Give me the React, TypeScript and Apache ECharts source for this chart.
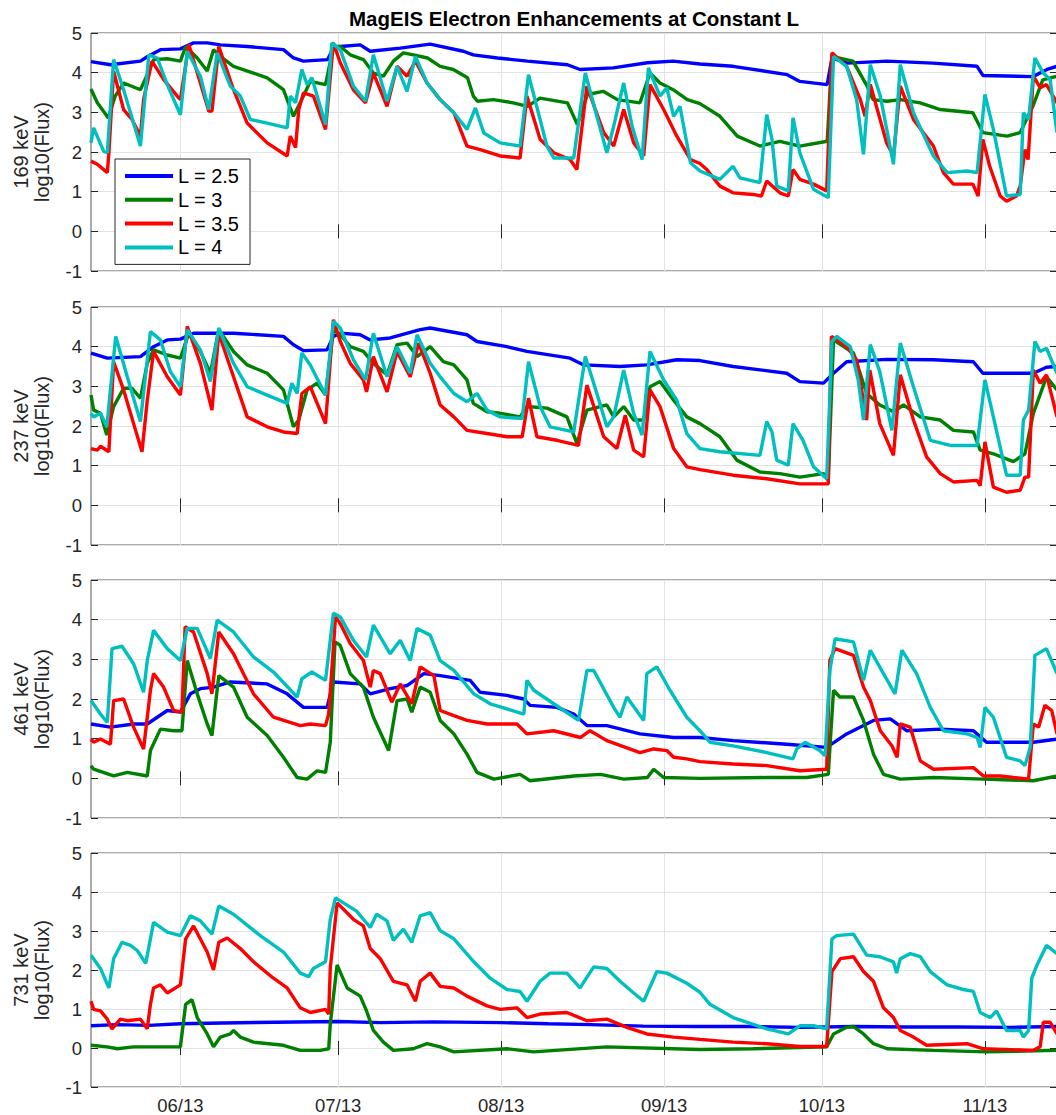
import React, { useEffect, useRef } from "react";
import * as echarts from "echarts";

// ---------------- data (x = day of year 2013, y = log10(Flux)) ----------------
const energyLabels = ["169 keV", "237 keV", "461 keV", "731 keV"];
const shellNames = ["L = 2.5", "L = 3", "L = 3.5", "L = 4"];
const shellColors = ["#0000ff", "#008000", "#ff0000", "#00bfbf"];
const monthTicks = [152, 182, 213, 244, 274, 305];
const monthLabels = ["06/13", "07/13", "08/13", "09/13", "10/13", "11/13"];
const xMin = 135;
const xMax = 318.7;
const yMin = -1;
const yMax = 5;

const e169_L25 = [[135,4.28],[138.7,4.2],[144.4,4.29],[145.7,4.4],[148.2,4.58],[152,4.6],[154.5,4.75],[157.1,4.75],[159.6,4.7],[164.7,4.66],[171.6,4.58],[173.5,4.37],[175.4,4.29],[180,4.33],[181.1,4.62],[182.4,4.66],[186.2,4.7],[188.1,4.54],[193.8,4.62],[199.5,4.72],[205.8,4.54],[207.7,4.45],[212.3,4.37],[218,4.29],[225.6,4.2],[228,4.08],[234.3,4.12],[240.8,4.25],[245.7,4.29],[250.8,4.22],[257.1,4.16],[267.4,3.95],[269.8,3.78],[275,3.7],[275.9,4.37],[278.8,4.24],[286.4,4.29],[295.1,4.24],[303.5,4.16],[304.6,3.93],[314.1,3.9],[316.8,4.08],[318.7,4.16]];
const e169_L3 = [[135,3.59],[136.2,3.24],[138.3,2.86],[139.6,3.41],[141.2,3.74],[144.4,3.57],[145.7,3.95],[146.9,4.33],[149.5,4.35],[152,4.29],[153,4.66],[155.2,4.37],[157.1,4.04],[158.3,4.58],[159.6,4.41],[162.1,4.16],[165.9,3.99],[168.5,3.87],[171.6,3.57],[173.5,2.9],[175.4,3.41],[176.7,3.78],[179.6,3.7],[181.1,4.66],[182.4,4.66],[184.3,4.45],[186.8,4.33],[188.7,3.99],[190.6,3.91],[192.5,4.29],[194.4,4.5],[196.3,4.45],[199,4.37],[201.4,4.16],[203.9,4.08],[206.6,3.87],[207.7,3.41],[208.5,3.28],[211.5,3.32],[215.3,3.24],[218,3.15],[220.4,3.36],[225.6,3.24],[227.5,2.69],[229.4,3.45],[232.4,3.53],[235.1,3.32],[239.4,3.24],[241.3,3.99],[243.2,3.74],[245.7,3.57],[248.4,3.32],[250.8,3.22],[254.6,2.9],[257.9,2.4],[262.2,2.15],[266,2.27],[269.8,2.15],[275,2.27],[275.9,4.41],[279.9,4.29],[282.6,3.66],[283.7,3.32],[286.4,3.28],[288.9,3.32],[292.7,3.24],[296.5,3.07],[302.7,2.99],[304.6,2.49],[309.2,2.4],[311.7,2.49],[314.1,3.15],[316,3.82],[318.7,3.91]];
const e169_L35 = [[135,1.77],[136.2,1.69],[138.1,1.48],[138.4,1.98],[139.3,4.04],[141.2,3.07],[142.8,2.82],[144.4,2.4],[145,3.32],[146.6,4.29],[148.8,3.83],[151.4,3.41],[152,3.32],[153.6,4.71],[155.8,3.74],[157.4,3.03],[158,3.03],[159.3,4.66],[162.1,3.57],[164.7,2.73],[168.5,2.23],[172.3,1.9],[172.9,2.4],[173.9,2.11],[174.5,3.07],[175.4,3.49],[177.3,3.41],[179.6,2.57],[181.1,4.75],[182.4,4.25],[184.9,3.57],[187.2,3.24],[188.7,3.99],[191.3,3.15],[193.2,4.16],[195.1,3.91],[196.7,4.29],[198.9,3.74],[201.4,3.32],[204,2.99],[206.5,2.15],[209,2.06],[212.8,1.9],[216.6,1.85],[217.9,3.41],[220.4,2.32],[223,1.98],[226.1,1.81],[227.4,1.56],[229.3,3.66],[232.5,2.49],[234.4,2.15],[236.3,3.07],[238.2,2.23],[240.1,1.9],[241.3,3.7],[243.9,3.07],[246.4,2.4],[249,1.81],[250.8,1.71],[252.1,1.56],[254.6,1.14],[257.1,0.97],[260.9,0.93],[262.5,0.89],[263.5,1.27],[266,0.97],[267.6,0.89],[268.5,1.56],[269.8,1.31],[272.4,1.19],[274.9,1.02],[275.9,4.5],[278.7,4.16],[281.3,3.32],[282.2,2.9],[283.2,3.7],[286.3,2.23],[287.6,1.9],[288.9,3.66],[291.4,2.82],[295.2,2.15],[297.1,1.48],[299,1.19],[302.7,1.19],[303.7,0.89],[304.6,2.32],[305.9,1.64],[307.9,0.89],[309.1,0.76],[311,0.89],[311.7,1.14],[312.6,2.06],[313.2,1.81],[314.2,3.91],[315.5,3.62],[316.7,3.7],[318.7,3.24]];
const e169_L4 = [[135,2.23],[135.5,2.61],[137.4,2.02],[138.1,1.98],[139.3,4.33],[141.2,3.57],[144.4,2.15],[146,4.45],[147.6,4.37],[149.5,3.7],[152,2.94],[153.3,4.54],[155.8,3.91],[157.4,3.07],[159,4.5],[161.5,3.66],[163.4,3.41],[165.3,2.82],[168.5,2.73],[172.3,2.61],[172.9,3.41],[173.9,3.24],[175.1,4.08],[176.1,3.7],[177,3.87],[179.6,2.69],[180.8,4.75],[182.4,4.58],[184.9,3.66],[187.2,3.28],[188.7,4.45],[191.3,3.28],[193.2,4.16],[195.1,3.53],[196.7,4.41],[198.9,3.74],[201.4,3.32],[204,2.99],[206.5,2.57],[208.1,3.11],[209.7,2.48],[212.8,2.23],[216.6,2.15],[218.2,3.95],[220.4,2.82],[221.7,2.15],[223,1.85],[226.8,1.85],[229,3.99],[231.2,2.9],[233.1,1.98],[234.4,2.65],[236.3,3.74],[237.9,2.65],[239.8,1.81],[241,4.12],[243.2,3.41],[244.5,3.62],[245.8,2.9],[247,3.15],[249,1.73],[250.8,1.52],[254.6,1.31],[257.1,1.64],[258.4,1.35],[262.2,1.23],[263.5,2.94],[264.5,2.32],[265.4,1.14],[267.6,1.02],[268.5,2.86],[269.8,1.98],[272.4,1.06],[275.2,0.85],[276.2,4.41],[278.7,4.16],[280.6,3.32],[281.9,1.94],[283.2,4.2],[285.1,3.41],[287.6,1.69],[288.9,4.2],[291.4,2.99],[295.2,1.9],[297.8,1.48],[301.6,1.52],[303.5,1.48],[305,3.45],[306.6,2.57],[309.1,0.89],[311.7,0.93],[312.3,2.99],[313.3,2.82],[314.5,4.37],[316.1,3.99],[317.4,3.82],[318.7,2.49]];

const e237_L25 = [[135,3.84],[138.1,3.71],[144.4,3.75],[146.9,4.0],[149.5,4.17],[152,4.19],[154.5,4.34],[162.1,4.34],[171.6,4.26],[173.5,4.05],[175.4,3.9],[179.9,3.92],[181.1,4.26],[182.4,4.34],[186.2,4.3],[188.1,4.17],[191.9,4.22],[197.6,4.43],[199.5,4.47],[206.5,4.3],[208.4,4.13],[214.1,4.0],[217.9,3.88],[226.1,3.71],[228.7,3.54],[235.6,3.5],[240.7,3.54],[246.4,3.67],[250.8,3.65],[257.1,3.5],[267.3,3.33],[269.8,3.12],[274.3,3.08],[276.2,3.33],[278.7,3.62],[286.3,3.68],[295.2,3.67],[302.8,3.62],[304.6,3.33],[314.2,3.33],[316.7,3.48],[318.7,3.5]];
const e237_L3 = [[135,2.78],[135.5,2.4],[136.8,2.32],[138,1.77],[139.3,2.49],[141.2,2.95],[142.8,2.95],[144.4,2.7],[145.7,3.58],[146.9,3.92],[149.5,3.79],[152,3.71],[153.6,4.34],[155.8,3.88],[157.7,3.33],[159.3,4.43],[162.1,3.88],[164.7,3.54],[168.5,3.33],[171.6,2.91],[173.5,1.98],[174.5,2.15],[176.1,2.91],[178,3.08],[179.6,2.78],[181.1,4.43],[182.4,4.3],[184.3,4.0],[186.8,3.88],[188.7,3.58],[191.3,3.29],[193.2,4.05],[195.1,4.09],[197,3.75],[199.5,4.0],[202,3.62],[204,3.54],[206.5,3.16],[207.7,2.57],[210.3,2.36],[212.8,2.32],[216.6,2.23],[217.9,2.49],[221.7,2.45],[225.5,2.23],[227.4,1.56],[229.3,2.4],[233.1,2.53],[234.4,2.23],[236.3,2.49],[238.2,2.15],[240.1,2.15],[241.3,2.99],[243.2,3.12],[245.8,2.65],[248.3,2.23],[250.8,2.06],[254.6,1.73],[257.8,1.14],[262.2,0.84],[266,0.8],[269.8,0.71],[274.3,0.8],[275.2,0.63],[276.2,4.17],[280,3.84],[282.5,2.82],[285,2.53],[287.6,2.36],[289.5,2.53],[292.7,2.23],[296.5,2.15],[299,1.89],[302.8,1.85],[304.1,1.39],[306.6,1.3],[310.4,1.1],[312.6,1.3],[314.2,2.32],[316.7,3.24],[318.7,2.91]];
const e237_L35 = [[135,1.43],[136.2,1.39],[136.8,1.49],[138.4,1.35],[139.3,3.62],[141.2,2.91],[143.1,2.06],[144.7,1.35],[145.7,2.65],[146.9,3.88],[149.5,3.24],[152,2.78],[153.3,4.51],[155.8,3.58],[158,2.4],[159.3,4.34],[162.1,3.24],[164.7,2.23],[168.5,1.98],[171.6,1.85],[174.2,1.81],[175.1,2.82],[176.7,2.99],[179.6,2.06],[181.1,4.68],[182.4,4.13],[184.3,3.58],[186.8,3.16],[187.4,2.86],[188.7,3.75],[191.3,2.86],[193.2,3.88],[195.7,3.24],[197.3,4.09],[199.5,3.33],[201.4,2.53],[204,2.23],[206.5,1.89],[210.3,1.81],[214.1,1.73],[217,1.73],[218.2,2.7],[219.8,1.73],[223.6,1.64],[227.7,1.51],[229.3,3.03],[232.5,1.73],[235,1.43],[236.6,2.27],[238.2,1.39],[240.1,1.22],[241.3,2.91],[243.2,2.49],[245.8,1.43],[248.3,0.97],[250.8,0.9],[257.1,0.76],[263.5,0.67],[269.8,0.54],[275.2,0.54],[275.8,4.26],[278.7,4.0],[280.6,3.67],[282.5,2.15],[283.1,3.41],[285,2.06],[287.6,1.26],[288.9,3.29],[291.4,2.15],[293.9,1.22],[296.5,0.8],[299,0.59],[303.5,0.63],[304.1,0.5],[305,1.6],[306.6,0.46],[309.1,0.33],[311.7,0.38],[312.6,0.71],[313.3,0.71],[314.2,3.41],[315.5,3.08],[316.7,3.29],[318.7,2.23]];
const e237_L4 = [[135,2.32],[135.5,2.23],[136.8,2.32],[138,1.98],[139.7,4.26],[141.9,3.24],[144.4,2.11],[146.3,4.38],[148.2,4.17],[150.1,3.37],[152,2.99],[153.3,4.43],[155.8,3.92],[157.7,3.12],[159.3,4.47],[162.1,3.58],[164.7,2.99],[168.5,2.78],[172.3,2.57],[173.2,3.08],[174.2,2.82],[175.1,3.84],[176.7,3.54],[179.6,2.78],[181.1,4.64],[182.4,4.47],[184.9,3.67],[187.2,3.16],[188.7,4.34],[191.3,3.24],[193.2,4.0],[195.7,3.33],[197,4.3],[199.5,3.58],[201.4,3.24],[204,2.82],[206.5,2.61],[208.4,2.82],[210.3,2.4],[212.8,2.23],[217,2.19],[218.2,3.62],[220.4,2.49],[222.3,1.98],[226.8,1.85],[229,3.75],[231.2,2.82],[233.1,1.98],[234.4,2.23],[236.3,3.41],[238.2,2.32],[239.8,1.77],[241.3,3.88],[243.9,3.16],[246.4,2.65],[248.3,1.81],[250.8,1.43],[254.6,1.35],[262.2,1.26],[263.5,2.11],[264.5,1.85],[265.4,1.14],[267.6,1.01],[268.5,2.06],[270.4,1.64],[272.4,0.97],[274.9,0.67],[275.9,4.13],[276.8,4.26],[279.4,4.0],[280.9,3.16],[281.9,2.15],[283.2,4.05],[285,3.37],[287.3,1.89],[288.9,4.09],[291.4,2.99],[294.6,1.64],[298.4,1.51],[303.5,1.51],[305,3.16],[306.6,2.23],[309.1,0.76],[311.7,0.76],[312.3,2.15],[313.3,2.4],[314.5,4.13],[315.5,3.88],[316.7,3.96],[318.7,3.33]];

const e461_L25 = [[135,1.37],[138.7,1.29],[143.1,1.37],[145.7,1.37],[149.5,1.71],[152,1.67],[153.9,2.13],[155.8,2.26],[158.3,2.3],[161.5,2.43],[168.5,2.38],[172.3,2.13],[175.4,1.79],[179.9,1.79],[181.1,2.43],[186.2,2.38],[188.1,2.13],[191.9,2.26],[195.1,2.34],[198.3,2.64],[201.4,2.59],[207.1,2.47],[209,2.17],[214.1,2.09],[217.3,2.0],[218.5,1.84],[223.6,1.79],[226.8,1.62],[229.3,1.33],[233.1,1.33],[239.4,1.12],[245.8,1.03],[250.8,1.03],[257.1,0.95],[267.3,0.86],[274.9,0.78],[278.7,1.12],[283.8,1.46],[287,1.5],[290.1,1.2],[296.5,1.24],[302.8,1.2],[305.3,0.91],[314.2,0.91],[318.7,0.99]];
const e461_L3 = [[135,0.32],[135.5,0.23],[139.3,0.06],[141.9,0.15],[145.7,0.06],[146.3,0.7],[148.2,1.24],[150.7,1.2],[152.3,1.2],[153.3,2.97],[155.2,2.13],[157.1,1.37],[158,1.08],[159.3,2.59],[162.1,2.3],[164.7,1.54],[168.5,1.08],[171.6,0.53],[174.2,0.02],[176.1,-0.02],[178,0.19],[179.6,0.15],[180.5,0.91],[181.4,3.44],[182.4,3.35],[184.3,2.64],[186.8,2.3],[188.7,1.54],[191.6,0.7],[193.2,1.96],[195.1,2.0],[196,1.67],[197.6,2.3],[199.5,2.17],[201.4,1.46],[204,1.12],[206.5,0.61],[208.4,0.15],[211.6,-0.02],[216.6,0.1],[218.5,-0.06],[226.8,0.06],[231.9,0.1],[236.3,-0.02],[240.8,0.02],[242,0.23],[243.9,0.02],[250.8,0.0],[263.5,0.02],[271.1,0.02],[275.2,0.1],[276.2,2.22],[277.4,2.05],[280,2.05],[281.9,1.46],[283.8,0.61],[285.7,0.1],[288.9,-0.02],[295.2,0.02],[304.7,-0.02],[314.2,-0.06],[318.7,0.06]];
const e461_L35 = [[135,0.99],[135.5,0.91],[136.8,0.99],[138.7,0.86],[139.3,1.96],[141.2,2.0],[143.1,1.29],[145,0.74],[146.3,2.22],[146.9,2.64],[148.8,2.3],[150.7,1.71],[152.3,1.67],[152.9,3.82],[154.5,3.69],[157.1,2.64],[158,2.13],[159.3,3.69],[162.1,3.14],[165.9,2.13],[169.7,1.54],[174.8,1.33],[176.7,1.37],[179.6,1.33],[180.2,1.62],[181.5,4.07],[182.4,3.9],[184.3,3.4],[186.8,2.97],[188.1,2.3],[188.7,2.72],[190,2.64],[192.2,1.92],[193.8,2.38],[196,1.88],[197.6,2.81],[200.2,2.59],[201.4,1.71],[204,1.58],[206.5,1.46],[210.3,1.37],[216,1.37],[217.9,1.12],[223,1.2],[228.1,1.03],[229.9,1.2],[233.1,0.95],[239.4,0.65],[242,0.74],[244.5,0.7],[245.8,0.53],[248.3,0.49],[250.8,0.42],[257.1,0.36],[263.5,0.32],[269.8,0.19],[274.9,0.23],[275.5,2.97],[276.5,3.27],[280,3.1],[281.9,2.3],[283.2,1.96],[285.1,1.2],[287.3,0.82],[288.3,0.53],[288.9,1.37],[290.8,1.29],[292.7,0.44],[295.2,0.23],[302.8,0.27],[304.7,0.06],[307.9,0.06],[310.4,0.02],[313.3,-0.02],[314.2,1.37],[315.2,1.29],[316.4,1.84],[317.7,1.71],[318.7,1.12]];
const e461_L4 = [[135,1.96],[136.8,1.62],[138.1,1.41],[139,3.27],[140.9,3.33],[143.1,2.89],[145,2.17],[145.7,2.97],[146.9,3.73],[149.5,3.27],[152,2.97],[153.3,3.78],[155.2,3.78],[157.7,3.02],[159,3.99],[162.1,3.69],[165.9,3.06],[169.7,2.68],[174.2,2.05],[175.1,2.51],[177,2.68],[179.6,2.47],[181.1,4.16],[182.4,4.07],[184.9,3.48],[187.4,3.06],[188.7,3.86],[191.9,3.14],[193.8,3.48],[195.7,2.97],[197,3.78],[199.5,3.61],[201.4,2.97],[204,2.72],[207.8,2.13],[210.9,1.88],[214.1,1.75],[217.3,1.62],[217.9,2.47],[219.2,2.22],[223,1.88],[227.7,1.46],[229.3,2.72],[230.6,2.72],[234.4,1.79],[235.6,1.54],[236.9,2.05],[240.1,1.46],[240.7,2.64],[242.6,2.81],[245.1,2.22],[248.3,1.54],[250.8,1.2],[252.7,0.91],[257.1,0.82],[263.5,0.65],[268.5,0.49],[269.2,0.74],[270.8,0.91],[273.6,0.7],[274.6,0.57],[275.5,2.72],[276.5,3.52],[280,3.44],[281.9,2.47],[283.2,3.23],[285.7,2.64],[287.9,2.13],[289.2,3.23],[292,2.64],[294.6,1.79],[297.1,1.2],[301.6,1.12],[303.5,1.03],[304.1,0.78],[305,1.79],[306.6,1.54],[309.1,0.53],[311.7,0.44],[312.6,0.32],[313.6,0.78],[314.5,3.1],[316.7,3.27],[318.7,2.64]];

const e731_L25 = [[135,0.57],[140,0.6],[146,0.58],[152,0.62],[160,0.64],[170,0.66],[182,0.68],[190,0.65],[200,0.67],[213,0.65],[222,0.62],[230,0.6],[240,0.56],[250,0.55],[260,0.55],[270,0.53],[280,0.55],[290,0.54],[300,0.54],[310,0.53],[318.7,0.55]];
const e731_L3 = [[135,0.07],[138.1,0.03],[140,-0.02],[143.1,0.03],[152,0.03],[153,1.12],[154.2,1.24],[155.2,0.78],[157.1,0.36],[158.3,0.03],[159.6,0.28],[161.5,0.36],[162.1,0.45],[163.4,0.28],[165.9,0.15],[171.6,0.07],[174.8,-0.06],[178.6,-0.06],[180.2,-0.02],[180.5,0.61],[181.8,2.13],[183.7,1.54],[186.2,1.33],[187.4,0.95],[188.7,0.45],[190.6,0.15],[192.5,-0.06],[196.3,-0.02],[198.9,0.11],[201.4,0.03],[204,-0.1],[214.1,-0.02],[219.2,-0.1],[233.1,0.03],[250.8,-0.04],[260.9,-0.02],[274.9,0.03],[276.2,0.36],[278.7,0.53],[280,0.55],[281.9,0.36],[283.8,0.11],[286.4,-0.02],[295.2,-0.06],[305.3,-0.1],[318.7,-0.06]];
const e731_L35 = [[135,1.2],[135.5,0.99],[136.8,0.95],[138.1,0.74],[139,0.49],[140.6,0.74],[141.9,0.7],[144.4,0.74],[145.7,0.49],[146.3,1.12],[146.9,1.54],[148.2,1.62],[149.5,1.41],[152,1.62],[153,2.8],[154.5,3.13],[157.1,2.46],[158.3,2.0],[159.3,2.71],[160.9,2.82],[163.4,2.55],[165.9,2.21],[169.7,1.79],[172.3,1.54],[174.8,1.03],[176.7,0.91],[179.6,0.99],[180.2,0.87],[180.5,2.04],[181.8,3.72],[184.9,3.3],[186.8,3.13],[188.1,2.55],[190,2.29],[192.5,1.71],[195.1,1.62],[196.7,1.2],[197.6,1.71],[199.5,1.92],[201.4,1.58],[204,1.54],[206.5,1.33],[210.3,1.08],[212.8,0.99],[216,1.03],[217.9,0.78],[220.4,0.87],[225.5,0.91],[229.3,0.7],[233.1,0.74],[236.9,0.53],[240.7,0.36],[245.8,0.28],[250.8,0.22],[257.1,0.15],[263.5,0.11],[269.8,0.04],[274.9,0.04],[275.9,1.96],[277.5,2.29],[280,2.34],[281.9,1.96],[283.8,1.71],[285.7,1.03],[287.6,0.78],[288.9,0.45],[291.4,0.28],[293.9,0.07],[301.6,0.11],[304.7,-0.02],[314.2,-0.06],[315.5,0.03],[316.1,0.66],[317.4,0.66],[318.7,0.36]];
const e731_L4 = [[135,2.38],[136.8,2.04],[138.4,1.54],[139.3,2.29],[140.9,2.71],[142.5,2.63],[143.8,2.5],[145.4,2.17],[146.9,3.22],[149.5,2.97],[152,2.88],[153.9,3.39],[155.8,3.26],[158,2.92],[159.3,3.64],[162.1,3.43],[167.2,2.88],[171.6,2.46],[174.8,1.92],[176.4,1.83],[177.3,2.04],[179.6,2.21],[180.5,3.3],[181.5,3.85],[185.5,3.51],[188.1,3.09],[189.3,3.43],[191.3,3.26],[192.5,2.76],[194.4,3.05],[196,2.71],[197.6,3.39],[199.5,3.47],[201.4,3.01],[204,2.8],[207.8,2.21],[210.9,1.79],[214.1,1.5],[216.6,1.45],[217.9,1.2],[220.4,1.71],[222.3,1.92],[225.5,1.92],[228,1.54],[230.6,2.08],[233.1,2.04],[235.6,1.71],[238.2,1.41],[240.1,1.2],[242.6,1.96],[244.5,1.92],[248.3,1.66],[250.8,1.43],[252.7,1.12],[257.1,0.78],[263.5,0.49],[267.6,0.36],[269.8,0.57],[272.4,0.57],[274.9,0.49],[275.9,2.8],[276.8,2.88],[280,2.92],[282.5,2.38],[285,2.34],[287.6,2.21],[288.2,1.92],[288.9,2.29],[290.8,2.42],[292.7,2.34],[294.6,1.96],[297.8,1.62],[300.9,1.5],[302.8,1.45],[304.1,0.91],[306,0.78],[307.2,0.95],[309.1,0.45],[311.7,0.45],[312.3,0.28],[313.3,0.45],[313.9,1.79],[314.9,2.13],[316.7,2.63],[318.7,2.42]];

const panels = [
  [e169_L25, e169_L3, e169_L35, e169_L4],
  [e237_L25, e237_L3, e237_L35, e237_L4],
  [e461_L25, e461_L3, e461_L35, e461_L4],
  [e731_L25, e731_L3, e731_L35, e731_L4],
];

// ---------------- layout / style ----------------
const FONT = '"Liberation Sans", Arial, Helvetica, sans-serif';
const PANEL_TOPS = [33, 307, 580, 853];
const PANEL_H = 238;
const PLOT_LEFT = 91;
const CHART_W = 1058;
const PLOT_RIGHT = 1;
const TEXT_COLOR = "#262626";
const GRID_COLOR = "#e3e3e3";

function buildOption() {
  const grid = PANEL_TOPS.map((top) => ({
    left: PLOT_LEFT,
    right: PLOT_RIGHT,
    top,
    height: PANEL_H,
    show: true,
    borderColor: "#555555",
    borderWidth: 1,
    backgroundColor: "#ffffff",
  }));
  const fmtMonth = (v: number) => {
    const i = monthTicks.indexOf(Math.round(v));
    return i >= 0 ? monthLabels[i] : "";
  };
  const xAxis: any[] = [];
  const yAxis: any[] = [];
  for (let i = 0; i < 4; i++) {
    xAxis.push({
      type: "value",
      gridIndex: i,
      min: xMin,
      max: xMax,
      position: "bottom",
      axisLine: { show: false },
      axisTick: { show: true, inside: true, length: 7, customValues: monthTicks, lineStyle: { color: TEXT_COLOR } },
      axisLabel: {
        show: i === 3,
        customValues: monthTicks,
        formatter: fmtMonth,
        fontSize: 18.5,
        fontFamily: FONT,
        color: TEXT_COLOR,
        margin: 9,
      },
      splitLine: { show: true, lineStyle: { color: GRID_COLOR, width: 1 } },
    });
  }
  for (let i = 0; i < 4; i++) {
    xAxis.push({
      type: "value",
      gridIndex: i,
      min: xMin,
      max: xMax,
      position: "top",
      axisLine: { show: false },
      axisTick: { show: true, inside: true, length: 7, customValues: monthTicks, lineStyle: { color: TEXT_COLOR } },
      axisLabel: { show: false, customValues: monthTicks },
      splitLine: { show: false },
    });
  }
  for (let i = 0; i < 4; i++) {
    yAxis.push({
      type: "value",
      gridIndex: i,
      min: yMin,
      max: yMax,
      interval: 1,
      position: "left",
      axisLine: { show: false },
      axisTick: { show: true, inside: true, length: 7, lineStyle: { color: TEXT_COLOR } },
      axisLabel: { fontSize: 18.5, fontFamily: FONT, color: TEXT_COLOR, margin: 9 },
      splitLine: { show: true, lineStyle: { color: GRID_COLOR, width: 1 } },
      name: energyLabels[i] + "\nlog10(Flux)",
      nameLocation: "middle",
      nameRotate: 90,
      nameGap: 39,
      nameTextStyle: { fontSize: 20, fontFamily: FONT, color: TEXT_COLOR, lineHeight: 21 },
    });
  }
  for (let i = 0; i < 4; i++) {
    yAxis.push({
      type: "value",
      gridIndex: i,
      min: yMin,
      max: yMax,
      interval: 1,
      position: "right",
      axisLine: { show: false },
      axisTick: { show: true, inside: true, length: 7, lineStyle: { color: TEXT_COLOR } },
      axisLabel: { show: false },
      splitLine: { show: false },
    });
  }
  const series: any[] = [];
  panels.forEach((panel, p) => {
    panel.forEach((data, s) => {
      series.push({
        type: "line",
        name: shellNames[s],
        xAxisIndex: p,
        yAxisIndex: p,
        data,
        symbol: "none",
        showSymbol: false,
        clip: true,
        color: shellColors[s],
        lineStyle: { color: shellColors[s], width: 3.4 },
        z: 2 + s,
      });
    });
  });
  return {
    animation: false,
    backgroundColor: "#ffffff",
    title: {
      text: "MagEIS Electron Enhancements at Constant L",
      left: 574,
      top: 8,
      padding: 0,
      textAlign: "center",
      textStyle: { fontSize: 20.5, fontWeight: "bold", fontFamily: FONT, color: "#000000" },
    },
    legend: {
      data: shellNames,
      left: 115,
      top: 159,
      orient: "vertical",
      icon: "rect",
      itemWidth: 48,
      itemHeight: 4,
      itemGap: 3.8,
      padding: [7, 8, 7, 10],
      borderColor: "#262626",
      borderWidth: 1,
      backgroundColor: "#ffffff",
      selectedMode: false,
      textStyle: { fontSize: 20, fontFamily: FONT, color: "#000000", lineHeight: 19.5, width: 64 },
      z: 10,
    },
    grid,
    xAxis,
    yAxis,
    series,
  };
}

export default function App() {
  const ref = useRef<HTMLDivElement>(null);
  useEffect(() => {
    if (!ref.current) return;
    const chart = echarts.init(ref.current, null, { renderer: "svg" });
    chart.setOption(buildOption() as any);
    return () => chart.dispose();
  }, []);
  return (
    <div style={{ position: "absolute", left: 0, top: 0, width: 1056, height: 1115, overflow: "hidden", background: "#fff" }}>
      <div ref={ref} style={{ width: CHART_W, height: 1115 }} />
    </div>
  );
}
